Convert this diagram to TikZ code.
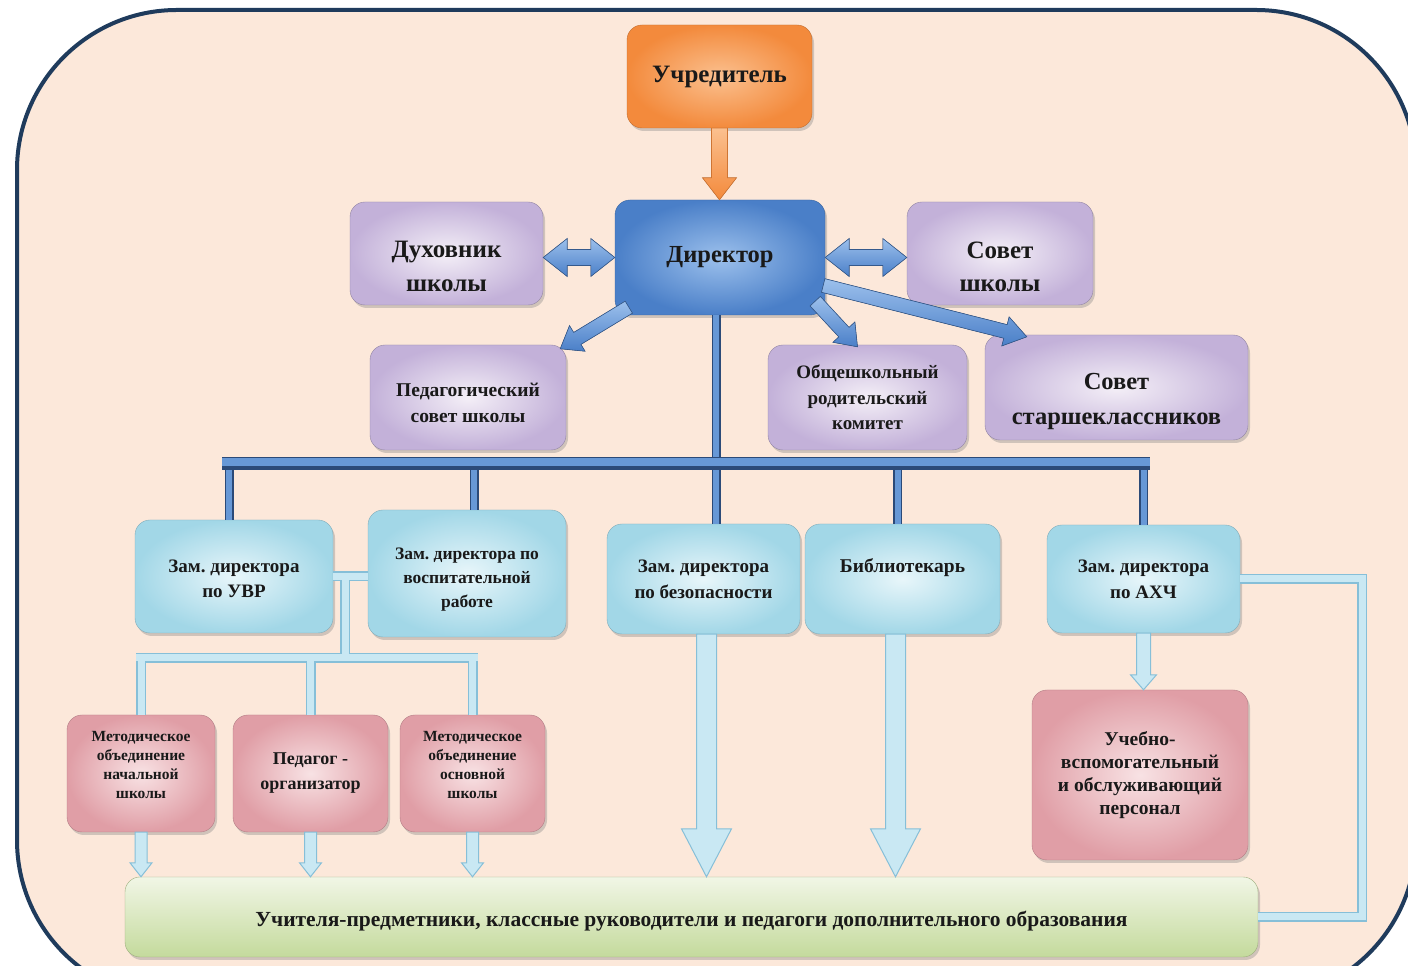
\documentclass[tikz,border=0pt]{standalone}
\usepackage{fontspec}
\setmainfont{Liberation Serif}
\usetikzlibrary{calc,shadows}
\frenchspacing

\definecolor{pagebg}{HTML}{FCE8DA}
\definecolor{frameC}{HTML}{1F3B5C}
\definecolor{oraL}{HTML}{FBC08F}
\definecolor{oraD}{HTML}{F38A3C}
\definecolor{dirL}{HTML}{9CC0EC}
\definecolor{dirD}{HTML}{4A7FC8}
\definecolor{lavL}{HTML}{F4EFF7}
\definecolor{lavD}{HTML}{C3B1D9}
\definecolor{cyaL}{HTML}{E8F6FA}
\definecolor{cyaD}{HTML}{A2D7E7}
\definecolor{pnkL}{HTML}{F8E2E4}
\definecolor{pnkD}{HTML}{E09EA6}
\definecolor{grnL}{HTML}{F1F6E6}
\definecolor{grnD}{HTML}{C4DA9C}
\definecolor{pipeE}{HTML}{86BFD8}
\definecolor{pipeF}{HTML}{C9E8F3}
\definecolor{busE}{HTML}{2B4A78}
\definecolor{busF}{HTML}{6798D6}

\tikzset{
  box/.style={rounded corners=15pt, align=center, inner sep=2pt,
    font=\bfseries, text=black!90,
    drop shadow={shadow xshift=2pt, shadow yshift=-3pt, opacity=0.35}},
  orabox/.style={box, draw=oraD!80!black, inner color=oraL, outer color=oraD},
  dirbox/.style={box, draw=dirD!80!black, inner color=dirL, outer color=dirD},
  lavbox/.style={box, draw=lavD!75!black, inner color=lavL, outer color=lavD},
  cyabox/.style={box, draw=cyaD!80!black, inner color=cyaL, outer color=cyaD},
  pnkbox/.style={box, draw=pnkD!80!black, inner color=pnkL, outer color=pnkD},
  grnbox/.style={box, draw=grnD!80!black, top color=grnL, bottom color=grnD},
  oraarr/.style={draw=oraD!85!black, line width=0.6pt, top color=oraL, bottom color=oraD},
  bluarr/.style={draw=dirD!70!black, line width=0.6pt, top color=dirL, bottom color=dirD},
  lbarr/.style={draw=pipeE, line width=1pt, fill=pipeF},
  lpipeo/.style={line width=10pt, draw=pipeE},
  lpipei/.style={line width=7pt, draw=pipeF},
  bpipeo/.style={line width=9pt, draw=busE},
  bpipei/.style={line width=6pt, draw=busF},
}

% first-line baseline placed #1 below the node centre
\newcommand\tb[2]{\raisebox{-#1}[0pt][0pt]{\begin{tabular}[t]{@{}c@{}}#2\end{tabular}}}

\newcommand\fatarrow[6][]{%
  \filldraw[#1] let \p1=(#2), \p2=(#3), \n1={atan2(\y2-\y1,\x2-\x1)} in
    ($(\p1)+(\n1+90:#4)$) -- ($(\p2)+(\n1+180:#6)+(\n1+90:#4)$) -- ($(\p2)+(\n1+180:#6)+(\n1+90:#5)$) -- (\p2)
    -- ($(\p2)+(\n1+180:#6)+(\n1-90:#5)$) -- ($(\p2)+(\n1+180:#6)+(\n1-90:#4)$) -- ($(\p1)+(\n1-90:#4)$) -- cycle;}
\newcommand\dblarrow[6][]{%
  \filldraw[#1] let \p1=(#2), \p2=(#3), \n1={atan2(\y2-\y1,\x2-\x1)} in
    (\p1) -- ($(\p1)+(\n1:#6)+(\n1+90:#5)$) -- ($(\p1)+(\n1:#6)+(\n1+90:#4)$)
    -- ($(\p2)+(\n1+180:#6)+(\n1+90:#4)$) -- ($(\p2)+(\n1+180:#6)+(\n1+90:#5)$) -- (\p2)
    -- ($(\p2)+(\n1+180:#6)+(\n1-90:#5)$) -- ($(\p2)+(\n1+180:#6)+(\n1-90:#4)$)
    -- ($(\p1)+(\n1:#6)+(\n1-90:#4)$) -- ($(\p1)+(\n1:#6)+(\n1-90:#5)$) -- cycle;}

\newcommand\fsz[2]{\fontsize{#1}{#2}\selectfont}

\begin{document}
\begin{tikzpicture}[x=1pt, y=1pt]
\useasboundingbox (0,0) rectangle (1408,966);
\fill[white] (0,0) rectangle (1408,966);
\begin{scope}
  \clip (0,0) rectangle (1408,966);
  \draw[line width=4pt, draw=frameC, fill=pagebg, rounded corners=160pt] (17,956) rectangle (1416,-34);
\end{scope}

% ---------- nodes ----------
\node[orabox, minimum width=185pt, minimum height=103pt, font=\bfseries\fsz{25}{28}] (ucr) at (719.5,889.5) {Учредитель};
\node[dirbox, minimum width=210pt, minimum height=115pt, font=\bfseries\fsz{24.5}{28}] (dir) at (720,708.5) {Директор};
\node[lavbox, minimum width=193pt, minimum height=103pt, font=\bfseries\fsz{25}{34}] (duh) at (446.5,712.5) {\tb{4pt}{Духовник\\школы}};
\node[lavbox, minimum width=186pt, minimum height=103pt, font=\bfseries\fsz{25}{33}] (sovsh) at (1000,712.5) {\tb{5pt}{Совет\\школы}};
\node[lavbox, minimum width=196pt, minimum height=105pt, font=\bfseries\fsz{19.5}{26}] (ped) at (468,568.5) {\tb{-0.5pt}{Педагогический\\совет школы}};
\node[lavbox, minimum width=199pt, minimum height=105pt, font=\bfseries\fsz{19}{25.5}] (obsh) at (867.5,568.5) {Общешкольный\\родительский\\комитет};
\node[lavbox, minimum width=263pt, minimum height=105pt, font=\bfseries\fsz{24.5}{35}] (star) at (1116.5,578.5) {\tb{2pt}{Совет\\старшеклассников}};

\node[cyabox, minimum width=198pt, minimum height=113pt, font=\bfseries\fsz{19}{25}] (uvr) at (234,389.5) {\tb{-3.5pt}{Зам. директора\\по УВР}};
\node[cyabox, minimum width=198pt, minimum height=127pt, font=\bfseries\fsz{17.5}{24}] (vosp) at (467,392.5) {\tb{-13.5pt}{Зам. директора по\\воспитательной\\работе}};
\node[cyabox, minimum width=193pt, minimum height=110pt, font=\bfseries\fsz{19}{26}] (bez) at (703.5,387) {Зам. директора\\по безопасности};
\node[cyabox, minimum width=195pt, minimum height=110pt, font=\bfseries\fsz{19.5}{26}] (bib) at (902.5,387) {Библиотекарь\\\mbox{}};
\node[cyabox, minimum width=193pt, minimum height=108pt, font=\bfseries\fsz{19}{26}] (ahch) at (1143.5,387) {Зам. директора\\по АХЧ};

\node[pnkbox, minimum width=148pt, minimum height=117pt, font=\bfseries\fsz{15.5}{19}] (mnach) at (141,192.5) {\tb{-32pt}{Методическое\\объединение\\начальной\\школы}};
\node[pnkbox, minimum width=155pt, minimum height=117pt, font=\bfseries\fsz{18}{25}] (porg) at (310.5,192.5) {Педагог -\\организатор};
\node[pnkbox, minimum width=145pt, minimum height=117pt, font=\bfseries\fsz{15.5}{19}] (mosn) at (472.5,192.5) {\tb{-32pt}{Методическое\\объединение\\основной\\школы}};
\node[pnkbox, minimum width=216pt, minimum height=170pt, font=\bfseries\fsz{19.5}{23}] (pers) at (1140,191) {Учебно-\\вспомогательный\\и обслуживающий\\персонал};

\node[grnbox, minimum width=1133pt, minimum height=80pt, font=\bfseries\fsz{21.5}{24}] (bot) at (691.5,49) {\tb{9.5pt}{Учителя-предметники, классные руководители и педагоги дополнительного образования}};

% ---------- coordinates ----------
\coordinate (busL) at (222,502.5);
\coordinate (busR) at (1150,502.5);
\coordinate (dirS) at ($(dir.south)+(-4,0)$);
\coordinate (bezN) at (dirS |- bez.north);
\coordinate (uvrN) at ($(uvr.north)+(-5,0)$);
\coordinate (vospN) at ($(vosp.north)+(7,0)$);
\coordinate (bibN) at ($(bib.north)+(-5,0)$);
\coordinate (ahchN) at (ahch.north);
\coordinate (junc) at ($(uvr.east)+(12,0)$);
\coordinate (bus2) at (junc |- 0,308);
\coordinate (b2L) at (mnach.north |- bus2);
\coordinate (b2R) at (mosn.north |- bus2);

% ---------- light pipes ----------
\foreach \s in {lpipeo,lpipei}{
  \draw[\s] (uvr.east) -- (uvr.east -| vosp.west);
  \draw[\s] (junc) -- (bus2);
  \draw[\s] ($(b2L)+(-5,0)$) -- ($(b2R)+(5,0)$);
  \draw[\s] (b2L) -- (mnach.north);
  \draw[\s] (porg.north |- bus2) -- (porg.north);
  \draw[\s] (b2R) -- (mosn.north);
  \draw[\s] (ahch.east) -- ++(122,0) |- (bot.east);
}

% ---------- blue bus ----------
\foreach \s in {bpipeo,bpipei}{
  \draw[\s] (dirS) -- (bezN);
  \draw[\s] (uvrN |- busL) -- (uvrN);
  \draw[\s] (vospN |- busL) -- (vospN);
  \draw[\s] (bibN |- busL) -- (bibN);
  \draw[\s] (ahchN |- busL) -- (ahchN);
}
\draw[line width=13pt, draw=busE] (busL) -- (busR);
\draw[line width=8pt, draw=busF] ($(busL)+(0,1.5)$) -- ($(busR)+(0,1.5)$);

% ---------- arrows ----------
\fatarrow[oraarr]{ucr.south}{ucr.south |- dir.north}{8pt}{17pt}{22pt}
\dblarrow[bluarr]{dir.west}{dir.west -| duh.east}{8pt}{19pt}{24pt}
\dblarrow[bluarr]{dir.east}{dir.east -| sovsh.west}{8pt}{19pt}{24pt}
\fatarrow[bluarr]{$(dir.south west)+(14,8)$}{$(ped.north east)+(-6,-4)$}{7pt}{15pt}{20pt}
\fatarrow[bluarr]{$(dir.south east)+(-10,14)$}{$(obsh.north)+(-10,-2)$}{7pt}{15pt}{20pt}
\fatarrow[bluarr]{$(dir.east)+(-2,-28)$}{$(star.north west)+(42,-2)$}{7pt}{15pt}{22pt}

\coordinate (bezS) at ($(bez.south)+(3,0)$);
\coordinate (bibS) at ($(bib.south)+(-7,0)$);
\fatarrow[lbarr]{bezS}{bezS |- bot.north}{10pt}{25pt}{48pt}
\fatarrow[lbarr]{bibS}{bibS |- bot.north}{10pt}{25pt}{48pt}
\fatarrow[lbarr]{mnach.south}{mnach.south |- bot.north}{6pt}{11pt}{14pt}
\fatarrow[lbarr]{porg.south}{porg.south |- bot.north}{6pt}{11pt}{14pt}
\fatarrow[lbarr]{mosn.south}{mosn.south |- bot.north}{6pt}{11pt}{14pt}
\fatarrow[lbarr]{ahch.south}{ahch.south |- pers.north}{7pt}{13pt}{15pt}
\end{tikzpicture}
\end{document}
